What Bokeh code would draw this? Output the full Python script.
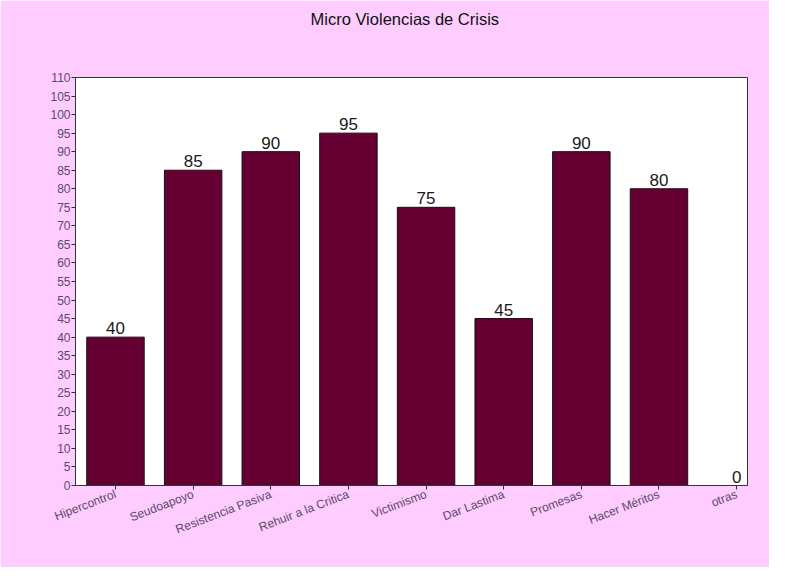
from bokeh.plotting import figure
from bokeh.models import Range1d, FixedTicker, ColumnDataSource, Title
from bokeh.embed import file_html
from bokeh.resources import INLINE
import math

categories = ["Hipercontrol", "Seudoapoyo", "Resistencia Pasiva", "Rehuir a la Critica",
              "Victimismo", "Dar Lastima", "Promesas", "Hacer Méritos", "otras"]
values = [40, 85, 90, 95, 75, 45, 90, 80, 0]
y_ticks = list(range(0, 111, 5))
title_text = "Micro Violencias de Crisis"

xs = list(range(len(categories)))
src = ColumnDataSource(dict(x=xs, v=values, lbl=[str(v) for v in values]))

BG = "#FFCCFF"
p = figure(width=769, height=567, output_backend="svg", toolbar_location=None,
           x_range=Range1d(-0.515, 8.14), y_range=Range1d(0, 110),
           background_fill_color="white", border_fill_color=BG,
           min_border_left=75, min_border_right=22, min_border_bottom=82, min_border_top=77)

# spacer (nearest the frame), then the real title above it
p.add_layout(Title(text=" ", text_font_size="1px", standoff=47), "above")
p.add_layout(Title(text=title_text, align="left", offset=235, standoff=0,
                   text_font="Liberation Sans", text_font_size="16.5px",
                   text_font_style="normal", text_color="#111111"), "above")

p.vbar(x="x", top="v", width=0.74, source=src, fill_color="#660033", line_color="#111111", line_width=1)
p.text(x="x", y="v", text="lbl", source=src, text_align="center", text_baseline="bottom",
       y_offset=-3, text_font_size="17px", text_color="#1a1a1a", text_font={"value": "Liberation Sans"})

p.grid.visible = False
p.outline_line_color = "#333333"
p.outline_line_width = 1

ax = p.xaxis[0]
ax.ticker = FixedTicker(ticks=xs)
ax.major_label_overrides = {i: c for i, c in enumerate(categories)}
ax.major_label_orientation = math.radians(21)
ax.major_label_text_font = "Liberation Sans"
ax.major_label_text_font_size = "12px"
ax.major_label_text_color = "#5b4b68"
ax.major_tick_in = 0
ax.major_tick_out = 4
ax.minor_tick_line_color = None
ax.axis_line_color = "#333333"
ax.major_tick_line_color = "#333333"
ax.major_label_standoff = 4

ay = p.yaxis[0]
ay.ticker = FixedTicker(ticks=y_ticks)
ay.major_label_text_font = "Liberation Sans"
ay.major_label_text_font_size = "12px"
ay.major_label_text_color = "#5b4b68"
ay.major_tick_in = 0
ay.major_tick_out = 4
ay.minor_tick_line_color = None
ay.axis_line_color = "#333333"
ay.major_tick_line_color = "#333333"
ay.major_label_standoff = 1

open("out.html", "w").write(file_html(p, INLINE))
